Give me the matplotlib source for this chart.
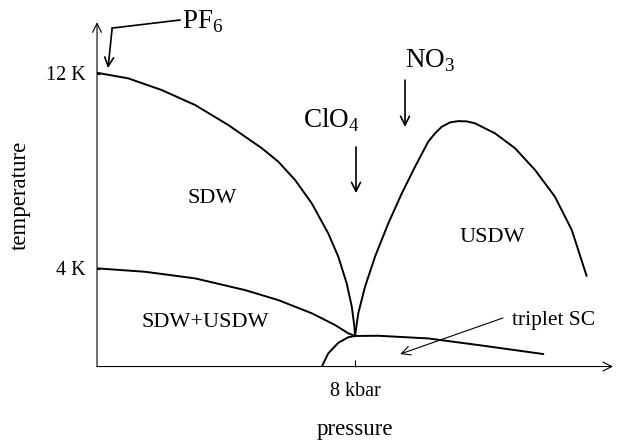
import numpy as np
import matplotlib
matplotlib.use("Agg")
import matplotlib.pyplot as plt

plt.rcParams["font.family"] = ["Liberation Serif", "DejaVu Serif"]
plt.rcParams["mathtext.fontset"] = "custom"
plt.rcParams["mathtext.rm"] = "Liberation Serif"

# Phase boundaries (pressure in kbar, temperature in K)
sdw_p = [0.0, 0.97, 2.01, 3.04, 4.07, 5.11, 5.62, 6.14, 6.66, 7.17, 7.48, 7.74, 7.90, 7.98, 8.0]
sdw_t = [12.03, 11.80, 11.32, 10.71, 9.89, 8.94, 8.39, 7.64, 6.68, 5.45, 4.50, 3.41, 2.45, 1.63, 1.25]

mix_p = [0.0, 1.49, 3.04, 4.59, 5.62, 6.66, 7.38, 7.79, 8.0]
mix_t = [4.02, 3.88, 3.61, 3.13, 2.72, 2.18, 1.70, 1.36, 1.25]

usdw_p = [8.0, 8.10, 8.31, 8.62, 9.03, 9.45, 9.86, 10.27, 10.48, 10.69, 10.95, 11.20,
          11.46, 11.72, 12.34, 12.96, 13.58, 14.20, 14.72, 15.18]
usdw_t = [1.25, 2.18, 3.27, 4.50, 5.86, 7.09, 8.18, 9.21, 9.55, 9.82, 10.0, 10.05,
          10.04, 9.96, 9.55, 8.94, 8.05, 6.95, 5.59, 3.71]

sc_p = [6.97, 7.17, 7.48, 7.79, 8.0, 8.72, 10.27, 11.82, 13.84]
sc_t = [0.0, 0.54, 0.97, 1.20, 1.25, 1.26, 1.15, 0.88, 0.51]

tick_p = [8]
tick_p_labels = ["8 kbar"]
tick_t = [4, 12]
tick_t_labels = ["4 K", "12 K"]

fig = plt.figure(figsize=(6.2, 4.41), dpi=100)
ax = fig.add_axes([0.1565, 0.1689, 0.8323, 0.7807])
ax.set_xlim(0, 16)
ax.set_ylim(0, 14.1)
for s in ax.spines.values():
    s.set_visible(False)

# axes with open arrow heads
ax.annotate("", xy=(16, 0), xytext=(0, 0), annotation_clip=False,
            arrowprops=dict(arrowstyle="->", lw=0.8, mutation_scale=16, shrinkA=0, shrinkB=0))
ax.annotate("", xy=(0, 14.1), xytext=(0, 0), annotation_clip=False,
            arrowprops=dict(arrowstyle="->", lw=0.8, mutation_scale=16, shrinkA=0, shrinkB=0))

# boundaries
for p, t in [(sdw_p, sdw_t), (mix_p, mix_t), (usdw_p, usdw_t), (sc_p, sc_t)]:
    ax.plot(p, t, color="black", lw=1.4, solid_capstyle="round", solid_joinstyle="round")

# ticks (labels placed by hand below)
ax.set_xticks(tick_p)
ax.set_xticklabels([])
ax.set_yticks(tick_t)
ax.set_yticklabels([])
ax.tick_params(axis="x", direction="in", length=5, width=0.8)
ax.tick_params(axis="y", direction="in", length=2.5, width=0.8)

for p, lab in zip(tick_p, tick_p_labels):
    ax.text(p, -1.21, lab, ha="center", va="baseline", fontsize=14.5)
for t, lab in zip(tick_t, tick_t_labels):
    ax.text(-0.34, t - 0.25, lab, ha="right", va="baseline", fontsize=14.5)

ax.text(8, -2.8, "pressure", ha="center", va="baseline", fontsize=16.5)
ax.text(-2.39, 7.02, "temperature", ha="center", va="center", rotation=90, fontsize=16.5)

# phase labels
ax.text(3.57, 6.9, "SDW", ha="center", va="center", fontsize=16)
ax.text(12.25, 5.29, "USDW", ha="center", va="center", fontsize=16)
ax.text(3.35, 1.8, "SDW+USDW", ha="center", va="center", fontsize=16)

# compound markers
arw = dict(arrowstyle="->", lw=1.2, mutation_scale=16, shrinkA=0, shrinkB=0)
ax.plot([2.57, 0.47], [14.19, 13.86], color="black", lw=1.2, clip_on=False)
ax.annotate("", xy=(0.34, 12.22), xytext=(0.47, 13.86), annotation_clip=False, arrowprops=arw)
ax.text(2.64, 13.86, r"PF$_\mathrm{6}$", ha="left", va="baseline", fontsize=19.5)

ax.annotate("", xy=(8.03, 7.10), xytext=(8.03, 8.99), arrowprops=arw)
ax.text(6.39, 9.77, r"ClO$_\mathrm{4}$", ha="left", va="baseline", fontsize=19.5)

ax.annotate("", xy=(9.55, 9.81), xytext=(9.55, 11.73), arrowprops=arw)
ax.text(9.55, 12.26, r"NO$_\mathrm{3}$", ha="left", va="baseline", fontsize=19.5)

ax.annotate("", xy=(9.40, 0.51), xytext=(12.59, 1.99),
            arrowprops=dict(arrowstyle="->", lw=0.8, mutation_scale=16, shrinkA=0, shrinkB=0))
ax.text(12.87, 1.70, "triplet SC", ha="left", va="baseline", fontsize=15.5)

fig.savefig("out.png", dpi=100)
